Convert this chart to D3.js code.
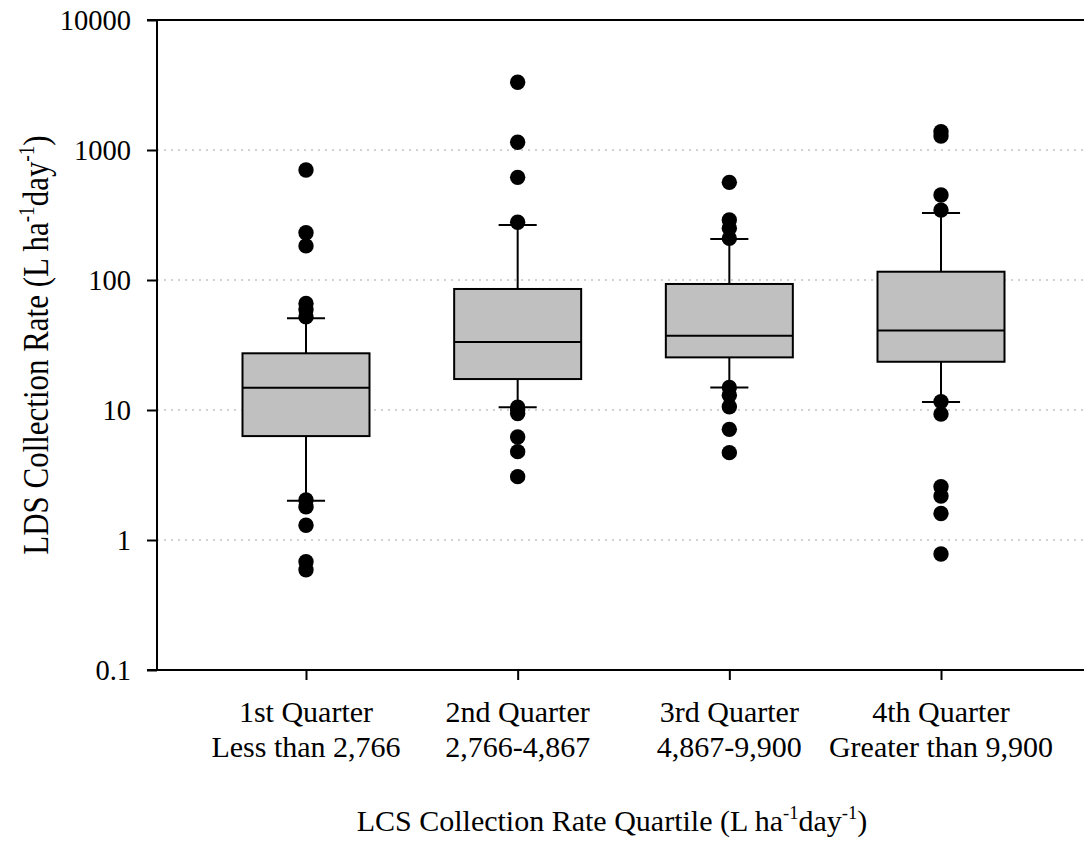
<!DOCTYPE html>
<html>
<head>
<meta charset="utf-8">
<script src="https://cdn.jsdelivr.net/npm/d3@7/dist/d3.min.js"></script>
<style>
  html, body { margin: 0; padding: 0; background: #fff; }
  svg { display: block; }
  text { font-family: "Liberation Serif", "Times New Roman", serif; fill: #000; }
</style>
</head>
<body>
<svg id="chart" width="1084" height="844"></svg>
<script>
// ---- data ----
const categories = ["1st Quarter", "2nd Quarter", "3rd Quarter", "4th Quarter"];
const subLabels = ["Less than 2,766", "2,766-4,867", "4,867-9,900", "Greater than 9,900"];
const whiskerLow = [2.0, 10.5, 14.9, 11.5];
const q1 = [6.3, 17.3, 25.4, 23.5];
const median = [14.8, 33.4, 37.3, 40.8];
const q3 = [27.3, 85.3, 93.2, 115.8];
const whiskerHigh = [50.7, 265, 207, 328];
const outliers = [
  [702, 231, 183, 66, 59, 52, 2.03, 1.8, 1.3, 0.68, 0.59],
  [3318, 1146, 616, 278, 10.5, 10, 9.4, 6.2, 4.78, 3.07],
  [564, 290, 250, 209, 14.9, 13, 10.6, 7.1, 4.7],
  [1380, 1280, 451, 345, 11.6, 9.3, 2.57, 2.18, 1.6, 0.78]
];
const yTicks = [0.1, 1, 10, 100, 1000, 10000];
const yTickLabels = ["0.1", "1", "10", "100", "1000", "10000"];
const gridValues = [1, 10, 100, 1000];

// ---- layout ----
const svg = d3.select("#chart");
const L = 157, R = 1084, T = 20, B = 670;
const FS_TICK = 28.5;
const FS_X = 30;

const y = d3.scaleLog().domain([0.1, 10000]).range([B, T]);
const x = d3.scalePoint().domain(categories).range([306, 941]);
const boxW = x.step() * 0.6;
const capW = x.step() * 0.18;

// gridlines
svg.append("g").selectAll("line").data(gridValues).join("line")
  .attr("x1", L).attr("x2", R)
  .attr("y1", d => y(d)).attr("y2", d => y(d))
  .attr("stroke", "#c4c4c4").attr("stroke-width", 1.5)
  .attr("stroke-dasharray", "2,5");

// top frame line
svg.append("line").attr("x1", L).attr("x2", R).attr("y1", T).attr("y2", T)
  .attr("stroke", "#000").attr("stroke-width", 2);

// boxes
const data = categories.map((c, i) => ({
  c, lo: whiskerLow[i], q1: q1[i], med: median[i], q3: q3[i], hi: whiskerHigh[i], out: outliers[i]
}));
const g = svg.append("g");
const grp = g.selectAll("g.box").data(data).join("g").attr("class", "box");
grp.append("line").attr("x1", d => x(d.c)).attr("x2", d => x(d.c))
  .attr("y1", d => y(d.q3)).attr("y2", d => y(d.hi)).attr("stroke", "#000").attr("stroke-width", 2);
grp.append("line").attr("x1", d => x(d.c)).attr("x2", d => x(d.c))
  .attr("y1", d => y(d.q1)).attr("y2", d => y(d.lo)).attr("stroke", "#000").attr("stroke-width", 2);
grp.append("line").attr("x1", d => x(d.c) - capW / 2).attr("x2", d => x(d.c) + capW / 2)
  .attr("y1", d => y(d.hi)).attr("y2", d => y(d.hi)).attr("stroke", "#000").attr("stroke-width", 2);
grp.append("line").attr("x1", d => x(d.c) - capW / 2).attr("x2", d => x(d.c) + capW / 2)
  .attr("y1", d => y(d.lo)).attr("y2", d => y(d.lo)).attr("stroke", "#000").attr("stroke-width", 2);
grp.append("rect").attr("x", d => x(d.c) - boxW / 2).attr("width", boxW)
  .attr("y", d => y(d.q3)).attr("height", d => y(d.q1) - y(d.q3))
  .attr("fill", "#c0c0c0").attr("stroke", "#000").attr("stroke-width", 2);
grp.append("line").attr("x1", d => x(d.c) - boxW / 2).attr("x2", d => x(d.c) + boxW / 2)
  .attr("y1", d => y(d.med)).attr("y2", d => y(d.med)).attr("stroke", "#000").attr("stroke-width", 2);
grp.selectAll("circle").data(d => d.out.map(v => ({ c: d.c, v }))).join("circle")
  .attr("cx", d => x(d.c)).attr("cy", d => y(d.v)).attr("r", 7.7).attr("fill", "#000");

// y axis
const yAxis = svg.append("g").attr("transform", `translate(${L},0)`)
  .call(d3.axisLeft(y).tickValues(yTicks).tickFormat((d, i) => yTickLabels[i]).tickSize(10).tickPadding(16));
yAxis.select(".domain").attr("stroke-width", 2).attr("d", `M-10,${T}H0V${B}H-10`);
yAxis.selectAll(".tick line").attr("stroke-width", 2);
yAxis.selectAll("text").attr("font-size", FS_TICK).attr("font-family", "Liberation Serif, Times New Roman, serif").attr("dy", "0.33em");

// x axis
const xAxis = svg.append("g").attr("transform", `translate(0,${B})`)
  .call(d3.axisBottom(x).tickSize(10).tickFormat(""));
xAxis.select(".domain").attr("stroke-width", 2).attr("d", `M${L},0H${R}`);
xAxis.selectAll(".tick line").attr("stroke-width", 2);

// category labels
const lab = svg.append("g").selectAll("text").data(categories).join("text")
  .attr("text-anchor", "middle").attr("font-size", FS_X)
  .attr("x", d => x(d)).attr("y", 722);
lab.append("tspan").attr("x", d => x(d)).text(d => d);
lab.append("tspan").attr("x", d => x(d)).attr("dy", 35).text((d, i) => subLabels[i]);

// axis titles
function unitTitle(sel, prefix, fs) {
  const s = fs * 0.62, up = fs * 0.4;
  sel.append("tspan").text(prefix + "(L ha");
  sel.append("tspan").attr("font-size", s).attr("dy", -up).text("-1");
  sel.append("tspan").attr("dy", up).text("day");
  sel.append("tspan").attr("font-size", s).attr("dy", -up).text("-1");
  sel.append("tspan").attr("dy", up).text(")");
}
const xt = svg.append("text").attr("text-anchor", "middle").attr("font-size", FS_X)
  .attr("x", 612).attr("y", 831);
unitTitle(xt, "LCS Collection Rate Quartile ", FS_X);

const FS_Y = 36;
const yt = svg.append("text").attr("text-anchor", "middle").attr("font-size", FS_Y)
  .attr("transform", `translate(48,345) rotate(-90) scale(0.86,1)`);
unitTitle(yt, "LDS Collection Rate ", FS_Y);
</script>
</body>
</html>
